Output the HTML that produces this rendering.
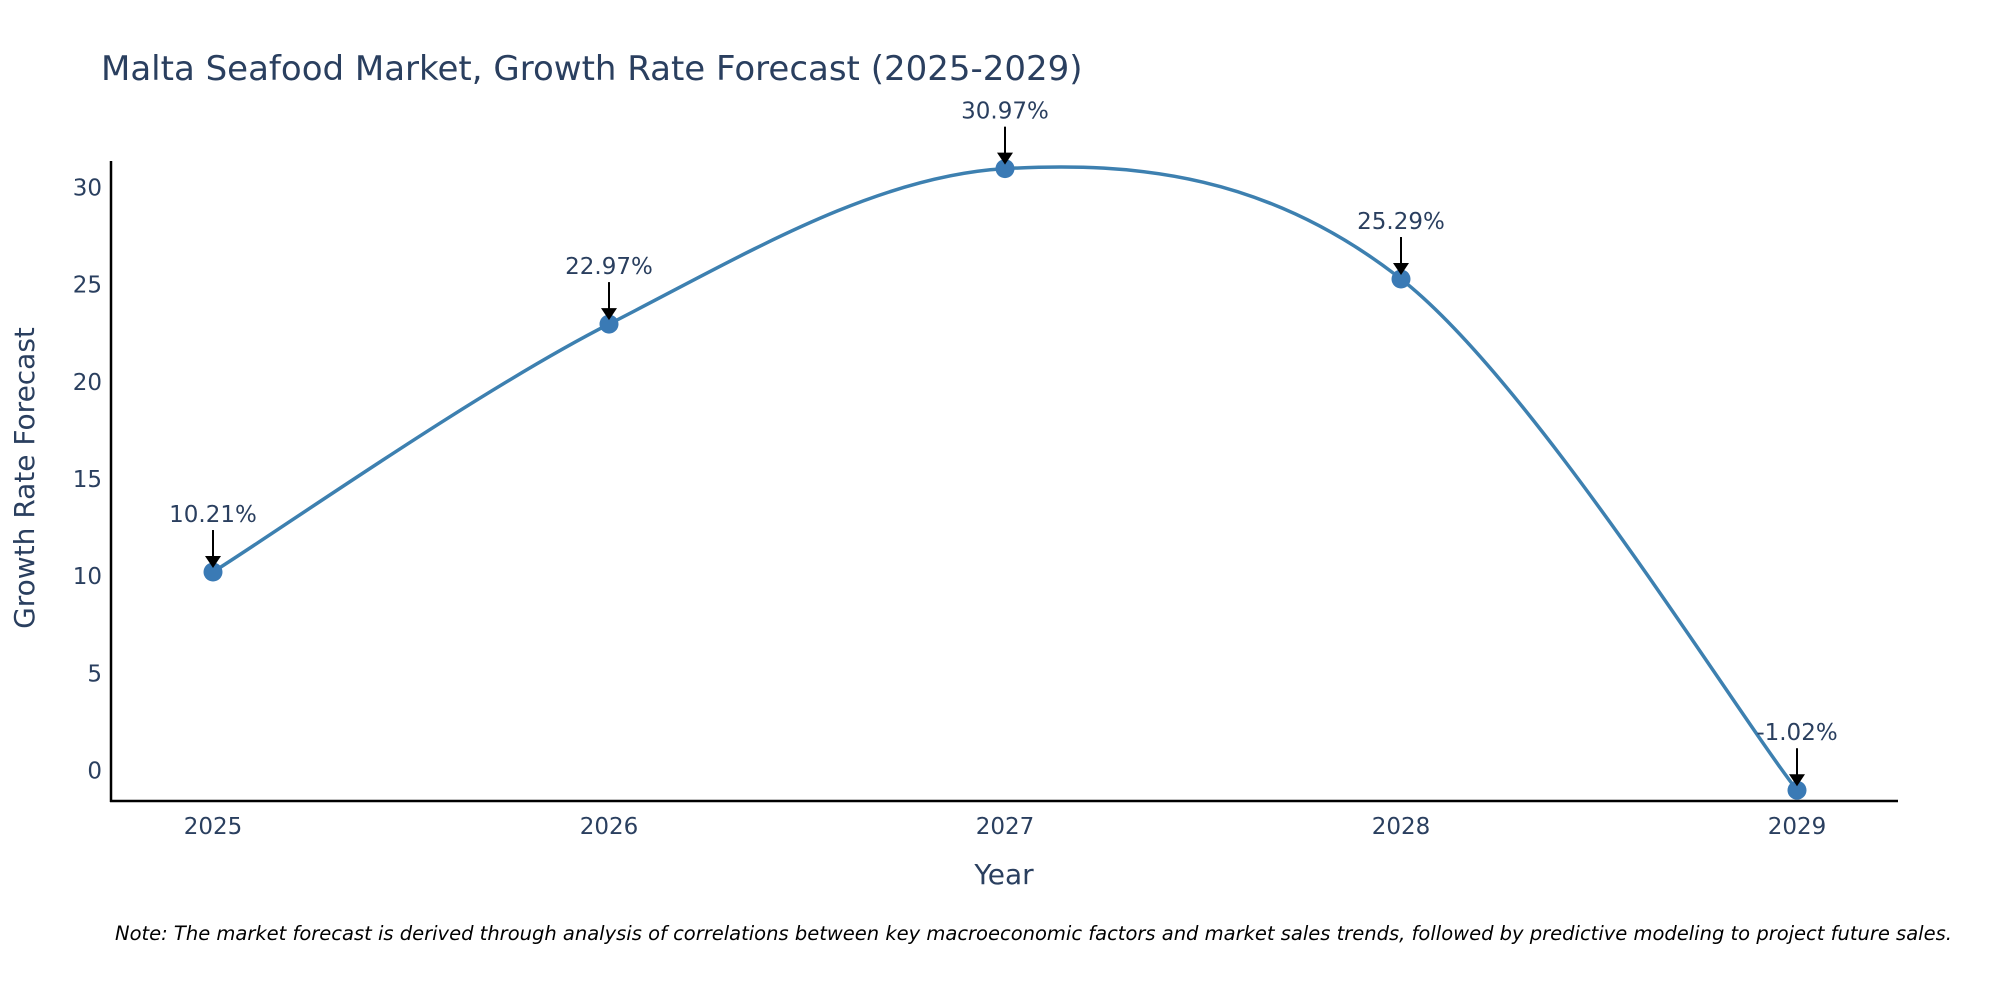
<!DOCTYPE html>
<html><head><meta charset="utf-8"><style>
body{margin:0;background:#fff;width:2000px;height:1000px;overflow:hidden;font-family:"DejaVu Sans","Liberation Sans",sans-serif}
svg text{font-family:"DejaVu Sans","Liberation Sans",sans-serif}
</style></head><body>
<svg id="chart" width="2000" height="1000" xmlns="http://www.w3.org/2000/svg">
<text x="101" y="80" font-size="34" fill="#2a3f5f">Malta Seafood Market, Growth Rate Forecast (2025-2029)</text>
<g id="yticks"></g><g id="xticks"></g>
<line x1="111" y1="161" x2="111" y2="802" stroke="#000" stroke-width="2.5"/>
<line x1="110" y1="801" x2="1898" y2="801" stroke="#000" stroke-width="2.5"/>
<path id="line" fill="none" stroke="#3d80b0" stroke-width="3.5"/>
<g id="points"></g><g id="annots"></g>
<text transform="translate(34,478) rotate(-90)" text-anchor="middle" font-size="28" fill="#2a3f5f">Growth Rate Forecast</text>
<text x="1004" y="884" text-anchor="middle" font-size="28" fill="#2a3f5f">Year</text>
<text x="115" y="940" font-size="19.5" font-style="italic" fill="#000">Note: The market forecast is derived through analysis of correlations between key macroeconomic factors and market sales trends, followed by predictive modeling to project future sales.</text>
</svg>
<script>
const years=[2025,2026,2027,2028,2029];
const values=[10.21,22.97,30.97,25.29,-1.02];
const yTicks=[0,5,10,15,20,25,30];
const NS="http://www.w3.org/2000/svg";
function xs(yr){return 213+(yr-2025)*(1797-213)/4;}
function ys(v){return 770.4-v*(770.4-187.5)/30;}
function mk(t,a){const e=document.createElementNS(NS,t);for(const k in a)e.setAttribute(k,a[k]);return e;}
const yg=document.getElementById('yticks');
yTicks.forEach(t=>{const e=mk('text',{x:102,y:ys(t)+8,'text-anchor':'end','font-size':23,fill:'#2a3f5f'});


e.textContent=t;yg.appendChild(e);});
const xg=document.getElementById('xticks');
years.forEach(y=>{const e=mk('text',{x:xs(y),y:834,'text-anchor':'middle','font-size':23,fill:'#2a3f5f'});


e.textContent=y;xg.appendChild(e);});
const P=years.map((y,i)=>[xs(y),ys(values[i])]);
let d=`M${P[0][0]},${P[0][1]}`;
for(let i=0;i<P.length-1;i++){const p0=P[Math.max(i-1,0)],p1=P[i],p2=P[i+1],p3=P[Math.min(i+2,P.length-1)];
const c1=[p1[0]+(p2[0]-p0[0])/6,p1[1]+(p2[1]-p0[1])/6],c2=[p2[0]-(p3[0]-p1[0])/6,p2[1]-(p3[1]-p1[1])/6];
d+=` C${c1[0]},${c1[1]} ${c2[0]},${c2[1]} ${p2[0]},${p2[1]}`;}
document.getElementById('line').setAttribute('d',d);
const pg=document.getElementById('points'),ag=document.getElementById('annots');
P.forEach((p,i)=>{const c=mk('circle',{cx:p[0],cy:p[1],r:9.5,fill:'#3a7ab5'});


pg.appendChild(c);
const l=mk('line',{x1:p[0],y1:p[1]-42,x2:p[0],y2:p[1]-14,stroke:'#000','stroke-width':2});


ag.appendChild(l);
const h=mk('polygon',{points:`${p[0]-8},${p[1]-16} ${p[0]+8},${p[1]-16} ${p[0]},${p[1]-4}`,fill:'#000'});


ag.appendChild(h);
const t=mk('text',{x:p[0],y:p[1]-50,'text-anchor':'middle','font-size':23,fill:'#2a3f5f'});


t.textContent=values[i].toFixed(2)+'%';ag.appendChild(t);});
</script>
</body></html>
